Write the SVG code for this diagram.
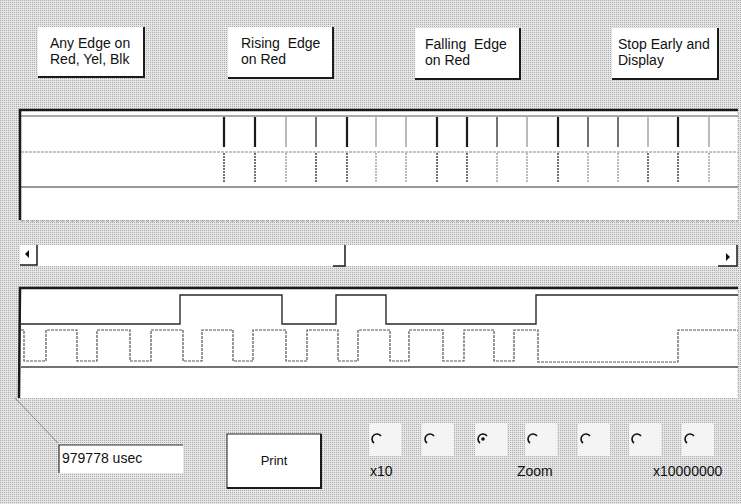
<svg xmlns="http://www.w3.org/2000/svg" width="741" height="504" viewBox="0 0 741 504">
<defs>
<pattern id="dither" width="2" height="2" patternUnits="userSpaceOnUse">
<rect width="2" height="2" fill="#e6e6e6"/>
<rect width="1" height="1" fill="#ababab"/>
</pattern>
<style>
text{font-family:"Liberation Sans",Arial,sans-serif;font-size:14px;fill:#111}
.btn{fill:#fff}
.shadow{fill:none;stroke:#1a1a1a;stroke-width:2}
.thick{stroke:#1a1a1a;stroke-width:2.2}
.med{stroke:#444;stroke-width:1.5}
.thin{stroke:#777;stroke-width:1}
.dot{stroke-dasharray:2 1}
.sig1{fill:none;stroke:#2a2a2a;stroke-width:1.4}
.sig2{fill:none;stroke:#555;stroke-width:1.2;stroke-dasharray:3 1}
.radio{fill:none;stroke:#111;stroke-width:1.6}
.rbox{fill:#f4f4f4}
</style>
</defs>
<rect width="741" height="504" fill="url(#dither)"/>

<g id="btn-any-edge">
<rect class="btn" x="38" y="27" width="106" height="50"/>
<polyline class="shadow" points="144,27 144,77 38,77"/>
<text x="50" y="48">Any Edge on</text>
<text x="50" y="64">Red, Yel, Blk</text>
</g>
<g id="btn-rising-edge">
<rect class="btn" x="228" y="27" width="105" height="51"/>
<polyline class="shadow" points="333,27 333,78 228,78"/>
<text x="241" y="48" xml:space="preserve">Rising  Edge</text>
<text x="241" y="64">on Red</text>
</g>
<g id="btn-falling-edge">
<rect class="btn" x="415" y="28" width="105" height="51"/>
<polyline class="shadow" points="520,28 520,79 415,79"/>
<text x="425" y="49" xml:space="preserve">Falling  Edge</text>
<text x="425" y="65">on Red</text>
</g>
<g id="btn-stop-early">
<rect class="btn" x="612" y="28" width="106" height="51"/>
<polyline class="shadow" points="718,28 718,79 612,79"/>
<text x="618" y="49">Stop Early and</text>
<text x="618" y="65">Display</text>
</g>

<g id="top-trace-panel">
<rect x="20" y="110" width="718" height="110" fill="#fff"/>
<polyline points="20,220 20,110 738,110" fill="none" stroke="#1a1a1a" stroke-width="2.5"/>
<line x1="738" y1="112" x2="738" y2="220" stroke="#bbb" stroke-width="1" stroke-dasharray="2 2"/>
<line x1="21" y1="116" x2="738" y2="116" stroke="#555" stroke-width="1"/>
<line x1="21" y1="152" x2="738" y2="152" stroke="#888" stroke-width="1" stroke-dasharray="3 1"/>
<line x1="21" y1="187" x2="738" y2="187" stroke="#333" stroke-width="1.2"/>
<line x1="21" y1="221" x2="738" y2="221" stroke="#999" stroke-width="1" stroke-dasharray="3 2"/>
<g id="row1">
<line class="thick" x1="224" y1="117" x2="224" y2="147"/>
<line class="thick" x1="255" y1="117" x2="255" y2="147"/>
<line class="thin" x1="286" y1="117" x2="286" y2="147"/>
<line class="med" x1="316" y1="117" x2="316" y2="147"/>
<line class="thick" x1="347" y1="117" x2="347" y2="147"/>
<line class="thin" x1="376" y1="117" x2="376" y2="147"/>
<line class="thin" x1="406" y1="117" x2="406" y2="147"/>
<line class="thick" x1="437" y1="117" x2="437" y2="147"/>
<line class="thick" x1="467" y1="117" x2="467" y2="147"/>
<line class="med" x1="497" y1="117" x2="497" y2="147"/>
<line class="thin" x1="527" y1="117" x2="527" y2="147"/>
<line class="thick" x1="558" y1="117" x2="558" y2="147"/>
<line class="med" x1="588" y1="117" x2="588" y2="147"/>
<line class="med" x1="618" y1="117" x2="618" y2="147"/>
<line class="thin" x1="648" y1="117" x2="648" y2="147"/>
<line class="thick" x1="678" y1="117" x2="678" y2="147"/>
<line class="thin" x1="709" y1="117" x2="709" y2="147"/>
</g>
<g id="row2">
<line class="med dot" x1="224" y1="153" x2="224" y2="182"/>
<line class="med dot" x1="255" y1="153" x2="255" y2="182"/>
<line class="thin dot" x1="286" y1="153" x2="286" y2="182"/>
<line class="med dot" x1="316" y1="153" x2="316" y2="182"/>
<line class="med dot" x1="347" y1="153" x2="347" y2="182"/>
<line class="thin dot" x1="376" y1="153" x2="376" y2="182"/>
<line class="thin dot" x1="406" y1="153" x2="406" y2="182"/>
<line class="med dot" x1="437" y1="153" x2="437" y2="182"/>
<line class="med dot" x1="467" y1="153" x2="467" y2="182"/>
<line class="thin dot" x1="497" y1="153" x2="497" y2="182"/>
<line class="thin dot" x1="527" y1="153" x2="527" y2="182"/>
<line class="med dot" x1="558" y1="153" x2="558" y2="182"/>
<line class="thin dot" x1="588" y1="153" x2="588" y2="182"/>
<line class="thin dot" x1="618" y1="153" x2="618" y2="182"/>
<line class="med dot" x1="648" y1="153" x2="648" y2="182"/>
<line class="med dot" x1="678" y1="153" x2="678" y2="182"/>
<line class="thin dot" x1="709" y1="153" x2="709" y2="182"/>
</g>
</g>

<g id="scrollbar">
<rect x="20" y="245" width="717" height="21" fill="#fff"/>
<polyline points="20,265 37,265 37,245" fill="none" stroke="#1a1a1a" stroke-width="1.5"/>
<polygon points="25,254 29,250 29,258" fill="#111"/>
<polyline points="333,266 345,266 345,245" fill="none" stroke="#1a1a1a" stroke-width="1.5"/>
<polyline points="718,266 737,266 737,245" fill="none" stroke="#1a1a1a" stroke-width="1.5"/>
<polygon points="730,257 726,253 726,261" fill="#111"/>
</g>

<g id="bottom-trace-panel">
<rect x="20" y="288" width="718" height="110" fill="#fff"/>
<polyline points="19,398 20,288 738,288" fill="none" stroke="#1a1a1a" stroke-width="2.5"/>
<line x1="738" y1="290" x2="738" y2="398" stroke="#bbb" stroke-width="1" stroke-dasharray="2 2"/>
<line x1="21" y1="367" x2="738" y2="367" stroke="#444" stroke-width="1.3"/>
<polyline id="signal-red" class="sig1" points="21,324 180,324 180,295 282,295 282,324 336,324 336,295 386,295 386,324 536,324 536,295 738,295"/>
<polyline id="signal-clock" class="sig2" points="21,330 24,330 24,361 46,361 46,330 77,330 77,361 97,361 97,330 130,330 130,361 151,361 151,330 183,330 183,361 202,361 202,330 233,330 233,361 253,361 253,330 286,330 286,361 307,361 307,330 338,330 338,361 358,361 358,330 390,330 390,361 409,361 409,330 443,330 443,361 464,361 464,330 494,330 494,361 514,361 514,330 538,330 538,362 678,362 678,330 738,330"/>
</g>

<line id="scan-mark" x1="15" y1="398" x2="58" y2="443" stroke="#777" stroke-width="0.8"/>

<g id="time-box">
<rect x="59" y="445" width="124" height="28" fill="#fff"/>
<polyline points="59,473 59,445 183,445" fill="none" stroke="#333" stroke-width="1.2"/>
<text x="62" y="463">979778 usec</text>
</g>

<g id="btn-print">
<rect x="227" y="434" width="94" height="54" fill="#fff" stroke="#222" stroke-width="1"/>
<polyline class="shadow" points="321,434 321,488 227,488"/>
<text x="274" y="465" text-anchor="middle" style="font-size:13px">Print</text>
</g>

<g id="zoom-radios">
<rect class="rbox" x="369" y="423" width="32" height="33"/>
<rect class="rbox" x="422" y="423" width="32" height="33"/>
<rect class="rbox" x="475" y="423" width="32" height="33"/>
<rect class="rbox" x="525" y="423" width="32" height="33"/>
<rect class="rbox" x="578" y="423" width="32" height="33"/>
<rect class="rbox" x="629" y="423" width="32" height="33"/>
<rect class="rbox" x="682" y="423" width="32" height="33"/>
<path class="radio" d="M374,443 A5 5 0 1 1 381,436"/>
<path class="radio" d="M427,443 A5 5 0 1 1 434,436"/>
<path class="radio" d="M480,443 A5 5 0 1 1 487,436"/>
<circle cx="483" cy="439" r="1.8" fill="#111"/>
<path class="radio" d="M530,443 A5 5 0 1 1 537,436"/>
<path class="radio" d="M583,443 A5 5 0 1 1 590,436"/>
<path class="radio" d="M634,443 A5 5 0 1 1 641,436"/>
<path class="radio" d="M687,443 A5 5 0 1 1 694,436"/>
<text x="370" y="476">x10</text>
<text x="517" y="476">Zoom</text>
<text x="653" y="476">x10000000</text>
</g>
</svg>
